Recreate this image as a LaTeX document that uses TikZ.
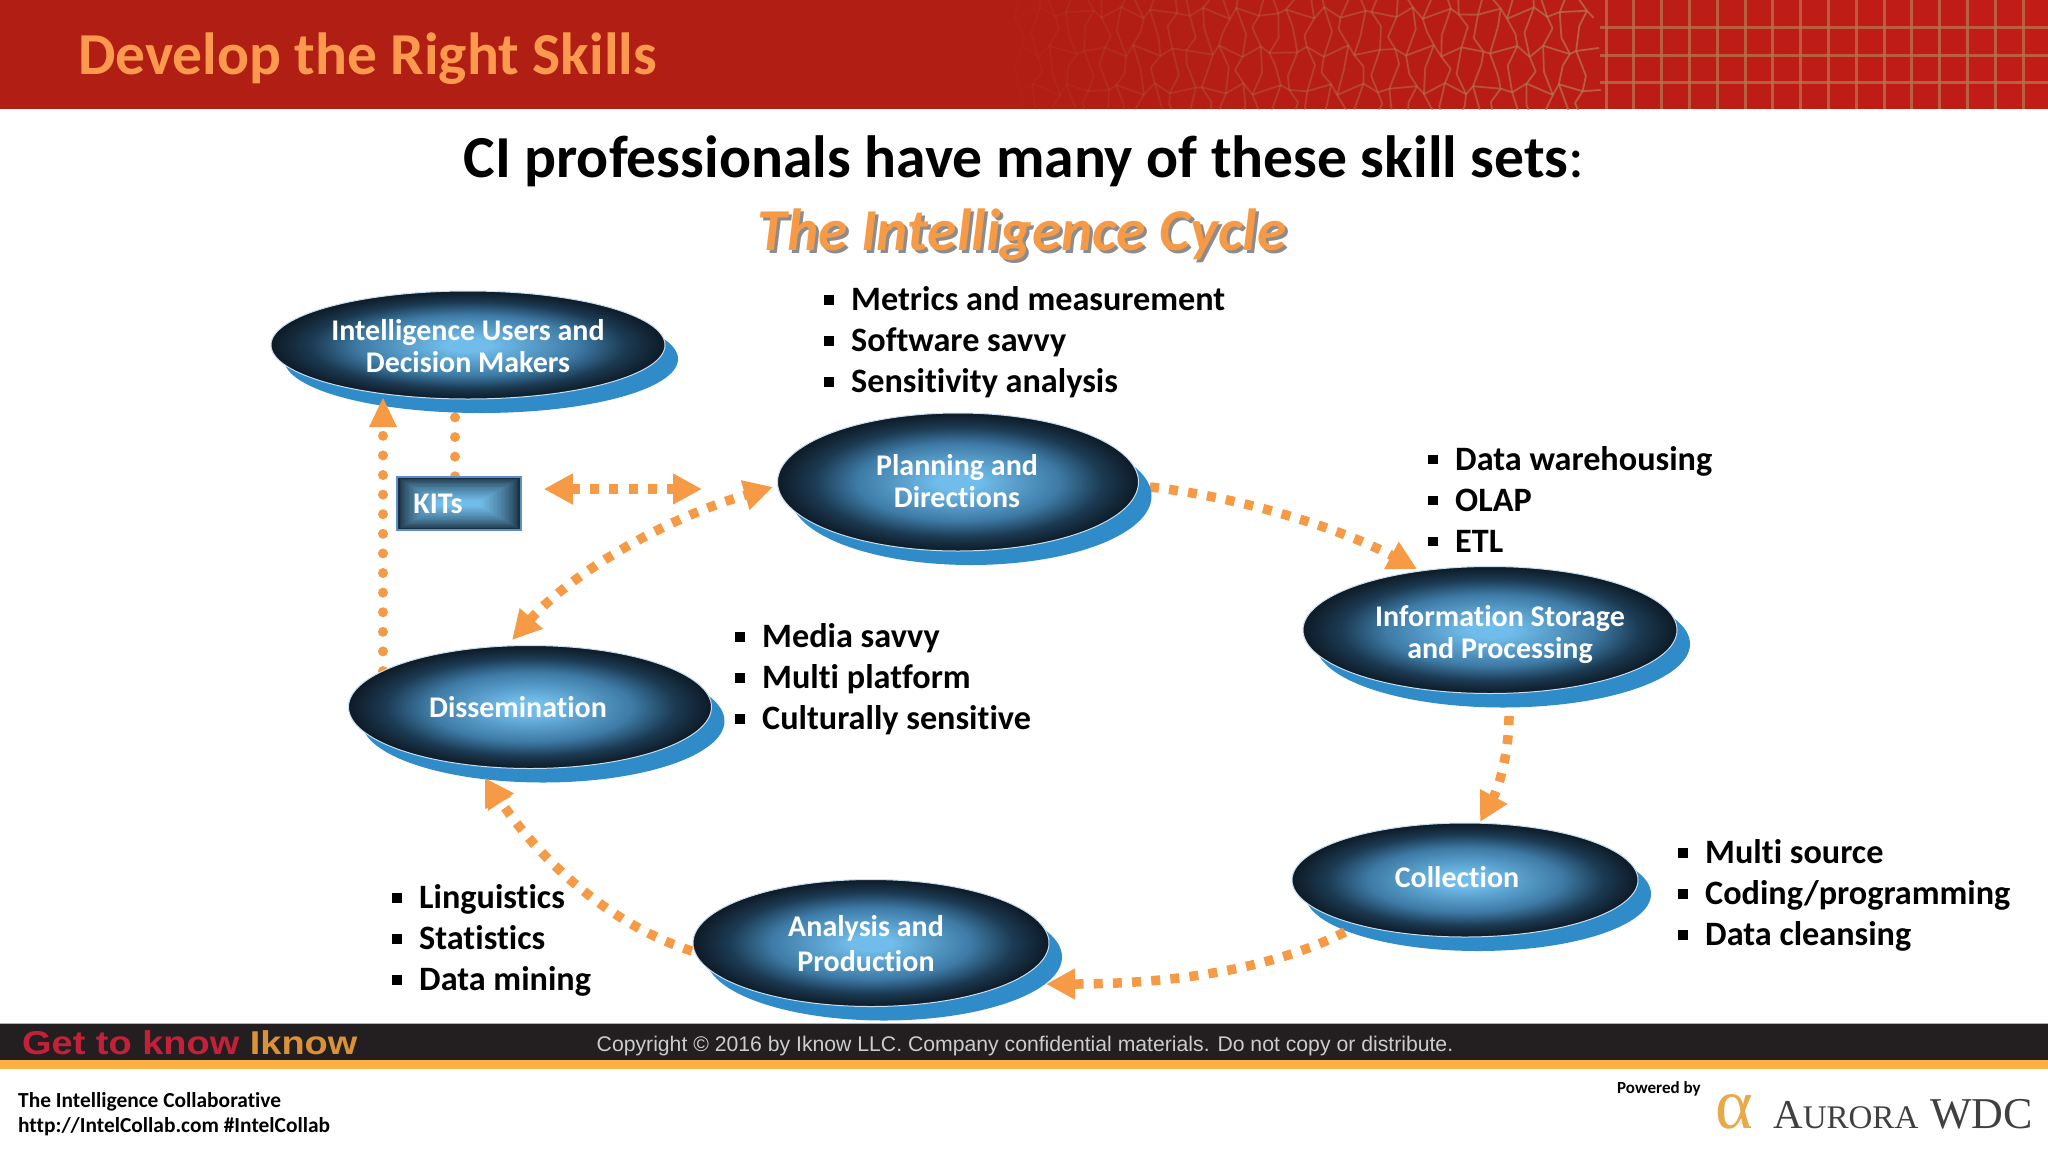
\documentclass[tikz,border=0pt]{standalone}
\usepackage{fontspec}
\setmainfont[Ligatures=NoCommon]{Carlito}
\newfontfamily\arialf{Liberation Sans}
\newfontfamily\seriff{Liberation Serif}
\usetikzlibrary{shapes.geometric,shadows,arrows.meta,calc}
\definecolor{ora}{HTML}{F79A46}
\definecolor{titleora}{HTML}{FB9A4E}
\definecolor{ellc}{HTML}{70BCEA}
\definecolor{ellb}{HTML}{3E7BA6}
\definecolor{ella}{HTML}{1B3A52}
\definecolor{elld}{HTML}{0E1A26}
\definecolor{ellrim}{HTML}{C5DFF2}
\definecolor{shblue}{HTML}{2F8CC9}
\definecolor{bandl}{HTML}{B01E14}
\definecolor{bandr}{HTML}{C21C17}
\definecolor{mesh}{HTML}{B8734E}
\definecolor{footdark}{HTML}{231F20}
\definecolor{footora}{HTML}{FFB145}
\definecolor{logoora}{HTML}{E8A94A}
\definecolor{gtkred}{HTML}{C4203A}
\definecolor{gtkora}{HTML}{DB9137}
\definecolor{kitline}{HTML}{5B8FC9}
\pgfdeclareradialshading{ellshade}{\pgfpoint{0bp}{0bp}}{color(0bp)=(ellc); color(3bp)=(ellc); color(14bp)=(ellb); color(20bp)=(ella); color(25bp)=(elld); color(50bp)=(elld)}
\pgfdeclarelayer{back}
\pgfsetlayers{back,main}
\newcommand{\bu}{\rule[6pt]{9.5pt}{9.5pt}\hspace{17.5pt}}
\tikzset{
  ell/.style={ellipse,inner sep=0pt,shading=ellshade,draw=ellrim,line width=1pt,
    general shadow={shadow xshift=13pt,shadow yshift=-14pt,fill=shblue}},
  lbl/.style={text=white,font=\fontsize{30}{32}\selectfont\bfseries,align=center,inner sep=0pt},
  lst/.style={text=black,font=\fontsize{34.2}{41}\selectfont\bfseries,align=left,anchor=west,inner sep=0pt},
  sq/.style={draw=ora,line width=9.5pt,dash pattern=on 9pt off 10.2pt},
  rd/.style={draw=ora,line width=10pt,line cap=round,dash pattern=on 0pt off 19.6pt},
  tipb/.style={-{Triangle[length=29pt,width=29pt,fill=ora,color=ora]}},
  tipbb/.style={{Triangle[length=29pt,width=29pt,fill=ora,color=ora]}-{Triangle[length=29pt,width=29pt,fill=ora,color=ora]}},
}
\begin{document}
\begin{tikzpicture}[x=1pt,y=-1pt]
\useasboundingbox (0,0) rectangle (2048,1152);
\begin{pgfonlayer}{back}
\fill[white] (0,0) rectangle (2048,1152);
\end{pgfonlayer}
% header band
\fill[bandl] (0,0) rectangle (2048,109);
\shade[left color=bandl,right color=bandr] (1000,0) rectangle (2048,108.4);
\begin{scope}
\clip (0,0) rectangle (2048,109);
\foreach \i in {0,...,33}{
  \foreach \j in {0,...,6}{
    \pgfmathsetmacro{\xa}{1020+17*\i+6*sin(137*\i+251*\j)}
    \pgfmathsetmacro{\ya}{-6+19*\j+6*sin(211*\i+79*\j)}
    \pgfmathsetmacro{\xb}{1020+17*(\i+1)+6*sin(137*(\i+1)+251*\j)}
    \pgfmathsetmacro{\yb}{-6+19*\j+6*sin(211*(\i+1)+79*\j)}
    \pgfmathsetmacro{\xc}{1020+17*\i+6*sin(137*\i+251*(\j+1))}
    \pgfmathsetmacro{\yc}{-6+19*(\j+1)+6*sin(211*\i+79*(\j+1))}
    \pgfmathsetmacro{\op}{min(0.05+\i/33*0.7,0.75)}
    \draw[mesh,opacity=\op,line width=1.8pt] (\xa,\ya) -- (\xc,\yc);
    \ifodd\j \draw[mesh,opacity=\op,line width=1.8pt] (\xa,\ya) -- (\xb,\yb);\fi
  }
}
\foreach \k in {0,...,16}{
  \draw[mesh,opacity=.75,line width=3pt] ({1606+27.8*\k},0) -- ({1606+27.8*\k},109);
}
\foreach \yy in {27,55,82}{
  \draw[mesh,opacity=.75,line width=3pt] (1600,\yy) -- (2048,\yy);
}
\end{scope}
\node[anchor=base west,inner sep=0pt,text=titleora,font=\fontsize{59.5}{64}\selectfont\bfseries] (title) at (78,74) {Develop the Right Skills};
\node[anchor=base,inner sep=0pt,font=\fontsize{59.6}{64}\selectfont] (head) at (1024,177) {\textbf{CI professionals have many of these skill sets}:};
\node[anchor=base,inner sep=0pt,text=black!45,font=\fontsize{59.4}{64}\selectfont\bfseries\itshape] (cycsh) at (1025,253) {The Intelligence Cycle};
\node[anchor=base,inner sep=0pt,text=ora,font=\fontsize{59.4}{64}\selectfont\bfseries\itshape] (cyc) at (1022,250) {The Intelligence Cycle};

% ellipses
\node[ell,minimum width=394pt,minimum height=108pt] (users) at (468,345) {};
\node[ell,minimum width=361pt,minimum height=138pt] (plan) at (958,482) {};
\node[ell,minimum width=374pt,minimum height=127pt] (stor) at (1490,630) {};
\node[ell,minimum width=346pt,minimum height=114pt] (coll) at (1465,880) {};
\node[ell,minimum width=356pt,minimum height=127pt] (anal) at (871,943) {};
\node[ell,minimum width=363pt,minimum height=123pt] (diss) at (530,707) {};

\node[lbl] (tusers) at (468,346) {Intelligence Users and\\Decision Makers};
\node[lbl] (tplan) at (957,481) {Planning and\\Directions};
\node[lbl] (tstor) at (1500,634.5) {Information Storage\\and Processing};
\node[lbl] (tcoll) at (1457,877) {Collection};
\node[lbl,font=\fontsize{30}{35}\selectfont\bfseries] (tanal) at (866,944) {Analysis and\\Production};
\node[lbl] (tdiss) at (518,707) {Dissemination};

% KITs box
\foreach \n in {0,...,30}{
  \pgfmathsetmacro{\f}{\n/30}
  \pgfmathsetmacro{\mix}{100*\f^0.6}
  \fill[ellc!\mix!elld] ({397+40*\f},{477+24*\f}) rectangle ({521-40*\f},{530-24*\f});
}
\node[draw=kitline,line width=1.5pt,minimum width=124pt,minimum height=53pt,inner sep=0pt] (kit) at (459,503.5) {};
\node[lbl] (tkit) at (438,504) {KITs};

% coordinates at free ends
\coordinate (kitr) at ($(kit.east)+(22,-14.5)$);
\coordinate (planl) at ($(plan.west)+(-75,7)$);
% connectors
\begin{pgfonlayer}{back}
\draw[rd] ($(kit.north)+(-4,0)$) -- ($(users.south)+(-13,14)$);
\draw[rd] ($(diss.north)+(-147,26)$) -- ($(users.south)+(-85,1)$);
\draw[sq,tipb] (1150,487) .. controls (1240,497) and (1340,528) .. (1417,569);
\draw[sq,tipb] (692,951) .. controls (610,925) and (540,860) .. (485,778);
\end{pgfonlayer}
\fill[ora] (383,398) -- (397,427) -- (369,427) -- cycle;
\fill[ora] (485,778) -- (511,797) -- (485,809) -- cycle;
\draw[sq,tipbb] (kitr) -- (planl);
\draw[sq,tipbb] (512,640) .. controls (570,575) and (660,520) .. (773,487);
\draw[sq,tipb] (1509,716) .. controls (1509,750) and (1500,785) .. (1480,822);
\draw[sq,tipb] (1345,932) .. controls (1270,970) and (1170,984) .. (1046,984);

% lists
\node[lst] (la) at (824,342.5) {\bu Metrics and measurement\\\bu Software savvy\\\bu Sensitivity analysis};
\node[lst] (lb) at (1428,499) {\bu Data warehousing\\\bu OLAP\\\bu ETL};
\node[lst] (lc) at (735,679.5) {\bu Media savvy\\\bu Multi platform\\\bu Culturally sensitive};
\node[lst] (ld) at (392,940.5) {\bu Linguistics\\\bu Statistics\\\bu Data mining};
\node[lst] (le) at (1678,895.5) {\bu Multi source\\\bu Coding/programming\\\bu Data cleansing};

% footer
\fill[black!30] (0,1023) rectangle (2048,1024);
\fill[footdark] (0,1024) rectangle (2048,1060);
\fill[footora] (0,1060) rectangle (2048,1069);
\node[anchor=base west,inner sep=0pt,font=\arialf\fontsize{33}{36}\selectfont\bfseries] (gtk) at (22,1054) {\scalebox{1.15}[1]{\textcolor{gtkred}{Get to know} \textcolor{gtkora}{Iknow}}};
\node[anchor=base,inner sep=0pt,text=black!20,font=\arialf\fontsize{21.2}{26}\selectfont] (copy) at (1025,1051) {Copyright © 2016 by Iknow LLC. Company confidential materials. Do not copy or distribute.};
\node[anchor=base west,inner sep=0pt,font=\fontsize{21.4}{26}\selectfont\bfseries] (tic) at (18,1107) {The Intelligence Collaborative};
\node[anchor=base west,inner sep=0pt,font=\fontsize{21.4}{26}\selectfont\bfseries] (url) at (18,1132) {http://IntelCollab.com \#IntelCollab};
\node[anchor=base west,inner sep=0pt,font=\fontsize{17}{20}\selectfont\bfseries] (pow) at (1617,1093) {Powered by};
\node[anchor=base west,inner sep=0pt,text=logoora,font=\seriff\fontsize{72}{72}\selectfont] (alpha) at (1715,1128) {α};
\node[anchor=base west,inner sep=0pt,text=black!75,font=\seriff\fontsize{41}{41}\selectfont] (aur) at (1773,1128) {A{\fontsize{33}{33}\selectfont URORA}};
\node[anchor=base west,inner sep=0pt,text=black!75,font=\seriff\fontsize{44}{44}\selectfont] (wdc) at (1930,1128) {WDC};
\end{tikzpicture}
\end{document}
